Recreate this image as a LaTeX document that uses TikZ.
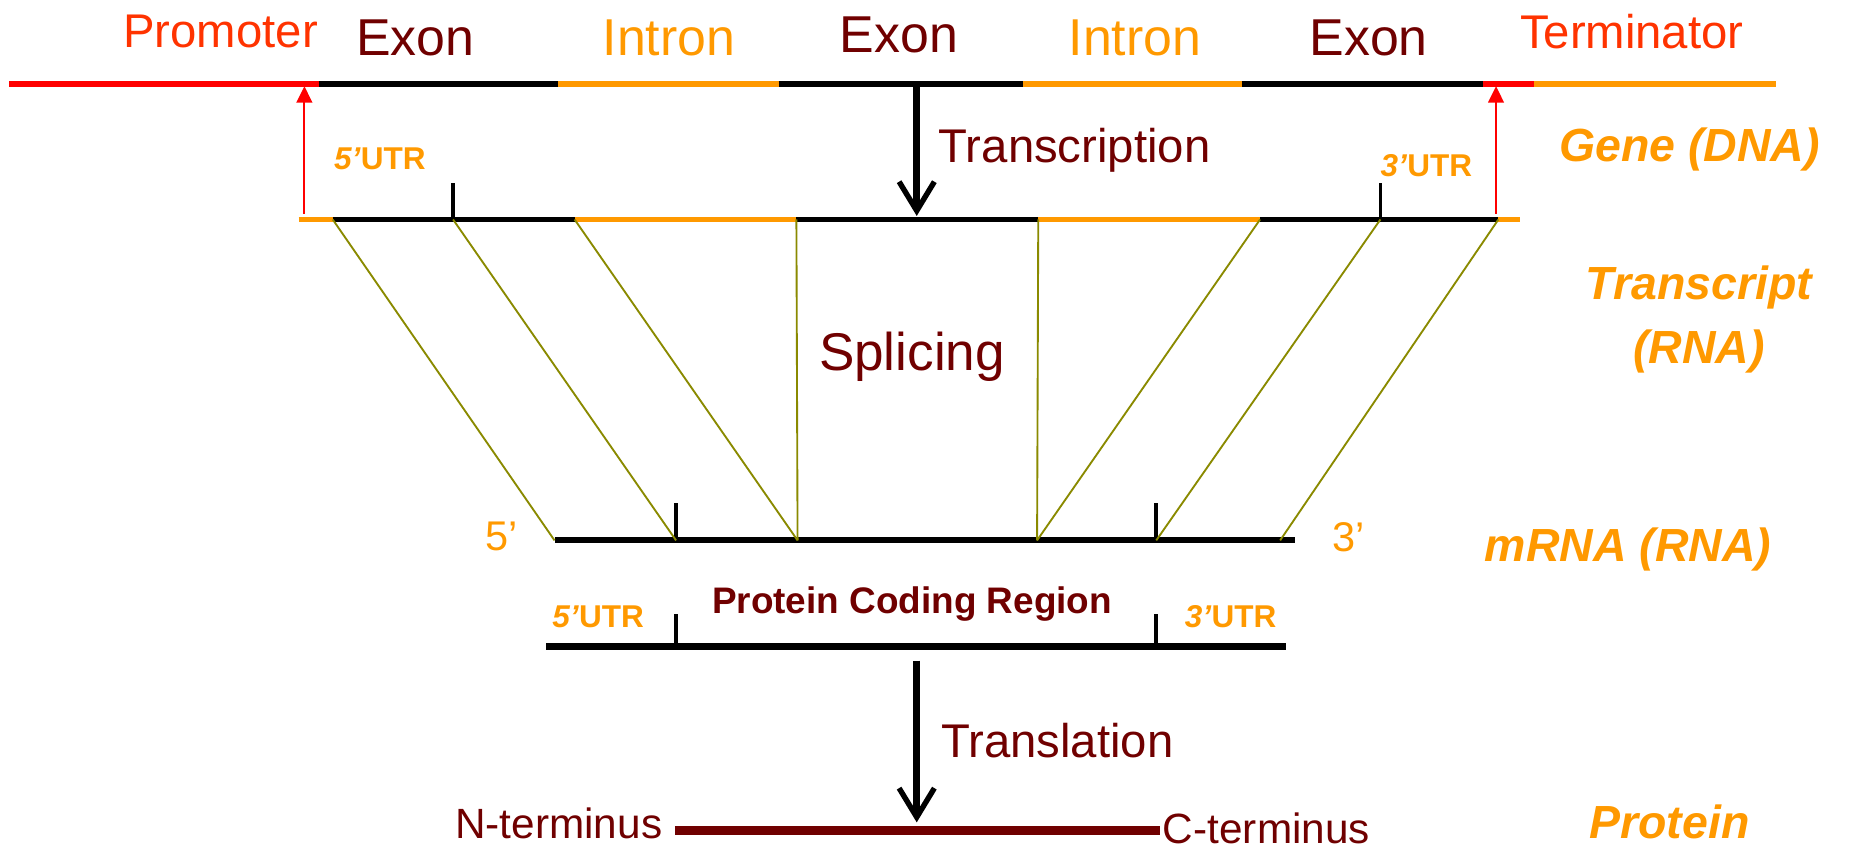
\documentclass[tikz,border=0pt]{standalone}
\usepackage{fontspec}
\setmainfont{Liberation Sans}
\usetikzlibrary{arrows.meta}
\definecolor{exonred}{HTML}{700000}
\definecolor{utrorange}{HTML}{FF9900}
\definecolor{promred}{HTML}{FF3300}
\definecolor{splice}{HTML}{8A8A00}

\tikzset{every path/.style={line cap=butt}}
\tikzset{
  dna/.style={line width=1.5pt},
  rna/.style={line width=1.3pt},
  tick/.style={line width=0.9pt,black},
  spliceline/.style={line width=0.45pt,color=splice},
  bigword/.style={font=\fontsize{12.5}{14}\selectfont,inner sep=0pt},
  sideword/.style={font=\fontsize{11.2}{15.5}\selectfont\bfseries\itshape,color=utrorange,inner sep=0pt,align=center},
  utr/.style={font=\fontsize{7.6}{9}\selectfont\bfseries,color=utrorange,inner sep=0pt}
}

\begin{document}
\begin{tikzpicture}[x=0.01cm,y=-0.01cm]
  \useasboundingbox (0,0) rectangle (1568,720);
  % gene (DNA)
  \coordinate (d0) at (8,71);
  \coordinate (d1) at (270,71);
  \coordinate (d2) at (473,71);
  \coordinate (d3) at (660,71);
  \coordinate (d4) at (867,71);
  \coordinate (d5) at (1053,71);
  \coordinate (d6) at (1257,71);
  \coordinate (d7) at (1300,71);
  \coordinate (d8) at (1505,71);
  \draw[dna,red] (d0) -- (d1);
  \draw[dna,black] (d1) -- (d2);
  \draw[dna,utrorange] (d2) -- (d3);
  \draw[dna,black] (d3) -- (d4);
  \draw[dna,utrorange] (d4) -- (d5);
  \draw[dna,black] (d5) -- (d6);
  \draw[dna,red] (d6) -- (d7);
  \draw[dna,utrorange] (d7) -- (d8);
  \node[bigword,font=\fontsize{11.4}{13}\selectfont,color=promred] (prom) at (187,27) {Promoter};
  \node[bigword,color=exonred] (ex1) at (352,32) {Exon};
  \node[bigword,color=utrorange] (in1) at (567,32) {Intron};
  \node[bigword,color=exonred] (ex2) at (762,30) {Exon};
  \node[bigword,color=utrorange] (in2) at (962,32) {Intron};
  \node[bigword,color=exonred] (ex3) at (1160,32) {Exon};
  \node[bigword,font=\fontsize{11.4}{13}\selectfont,color=promred] (term) at (1383,27) {Terminator};

  % transcript (RNA)
  \coordinate (t0) at (253,186);
  \coordinate (t1) at (282,186);
  \coordinate (t2) at (487,186);
  \coordinate (t3) at (675,186);
  \coordinate (t4) at (880,186);
  \coordinate (t5) at (1068,186);
  \coordinate (t6) at (1270,186);
  \coordinate (t7) at (1288,186);
  \draw[rna,utrorange] (t0) -- (t1);
  \draw[rna,black] (t1) -- (t2);
  \draw[rna,utrorange] (t2) -- (t3);
  \draw[rna,black] (t3) -- (t4);
  \draw[rna,utrorange] (t4) -- (t5);
  \draw[rna,black] (t5) -- (t6);
  \draw[rna,utrorange] (t6) -- (t7);
  \coordinate (ta) at (384,186);
  \coordinate (tb) at (1170,186);
  \draw[tick] (ta) -- ++(0,-31);
  \draw[tick] (tb) -- ++(0,-31);
  \node[utr] (u5a) at (322,135) {\textit{5’}UTR};
  \node[utr] (u3a) at (1209,140) {\textit{3’}UTR};

  % start and stop of transcription
  \coordinate (s1) at (258,181);
  \coordinate (s2) at (258,73);
  \coordinate (e1) at (1268,181);
  \coordinate (e2) at (1268,73);
  \path[red, line width=0.5pt, -{Triangle[length=4pt,width=3.8pt]}] (s1) edge (s2);
  \path[red, line width=0.5pt, -{Triangle[length=4pt,width=3.8pt]}] (e1) edge (e2);

  % transcription arrow
  \coordinate (tr1) at (777,74);
  \coordinate (tr2) at (777,183);
  \path[black, line width=1.7pt, -{Straight Barb[length=7pt,width=8.5pt,line width=1.3pt]}] (tr1) edge (tr2);
  \node[bigword,font=\fontsize{11.4}{13}\selectfont,color=exonred,anchor=west] (trlab) at (795,127) {Transcription};

  % mRNA
  \coordinate (m0) at (470,458);
  \coordinate (m1) at (573,458);
  \coordinate (m2) at (676,458);
  \coordinate (m3) at (879,458);
  \coordinate (m4) at (980,458);
  \coordinate (m5) at (1085,458);
  \coordinate (m6) at (1098,458);
  \draw[rna,line width=1.5pt,black] (m0) -- (m6);
  \draw[tick] (m1) -- ++(0,-32);
  \draw[tick] (m4) -- ++(0,-32);

  % splicing
  \path[spliceline] (t1) edge (m0);
  \path[spliceline] (ta) edge (m1);
  \path[spliceline] (t2) edge (m2);
  \path[spliceline] (t3) edge (m2);
  \path[spliceline] (t4) edge (m3);
  \path[spliceline] (t5) edge (m3);
  \path[spliceline] (tb) edge (m4);
  \path[spliceline] (t6) edge (m5);
  \node[bigword,font=\fontsize{12.8}{15}\selectfont,color=exonred] (splic) at (773,302) {Splicing};
  \node[inner sep=0pt,font=\fontsize{10}{12}\selectfont,color=utrorange] (five) at (425,455) {5’};
  \node[inner sep=0pt,font=\fontsize{10}{12}\selectfont,color=utrorange] (three) at (1143,455) {3’};

  % mRNA regions
  \coordinate (r0) at (463,548);
  \coordinate (r1) at (573,548);
  \coordinate (r2) at (980,548);
  \coordinate (r3) at (1090,548);
  \draw[rna,line width=1.5pt,black] (r0) -- (r3);
  \draw[tick] (r1) -- ++(0,-28);
  \draw[tick] (r2) -- ++(0,-28);
  \node[inner sep=0pt,font=\fontsize{8.9}{11}\selectfont\bfseries,color=exonred] (pcr) at (773,512) {Protein Coding Region};
  \node[utr] (u5b) at (507,523) {\textit{5’}UTR};
  \node[utr] (u3b) at (1043,523) {\textit{3’}UTR};

  % translation
  \coordinate (tl1) at (777,560);
  \coordinate (tl2) at (777,697);
  \path[black, line width=1.7pt, -{Straight Barb[length=7pt,width=8.5pt,line width=1.3pt]}] (tl1) edge (tl2);
  \node[bigword,font=\fontsize{11.4}{13}\selectfont,color=exonred,anchor=west] (tllab) at (797,628) {Translation};

  % protein
  \coordinate (p0) at (572,704);
  \coordinate (p1) at (983,704);
  \draw[line width=2pt,exonred] (p0) -- (p1);
  \node[inner sep=0pt,font=\fontsize{10.2}{12}\selectfont,color=exonred,anchor=east] (nterm) at (562,698) {N-terminus};
  \node[inner sep=0pt,font=\fontsize{10.2}{12}\selectfont,color=exonred,anchor=west] (cterm) at (985,702) {C-terminus};

  % levels
  \node[sideword] (gene) at (1432,127) {Gene (DNA)};
  \node[sideword] (tscr) at (1440,271) {Transcript\\(RNA)};
  \node[sideword] (mrna) at (1380,466) {mRNA (RNA)};
  \node[sideword] (prot) at (1415,697) {Protein};
\end{tikzpicture}
\end{document}
